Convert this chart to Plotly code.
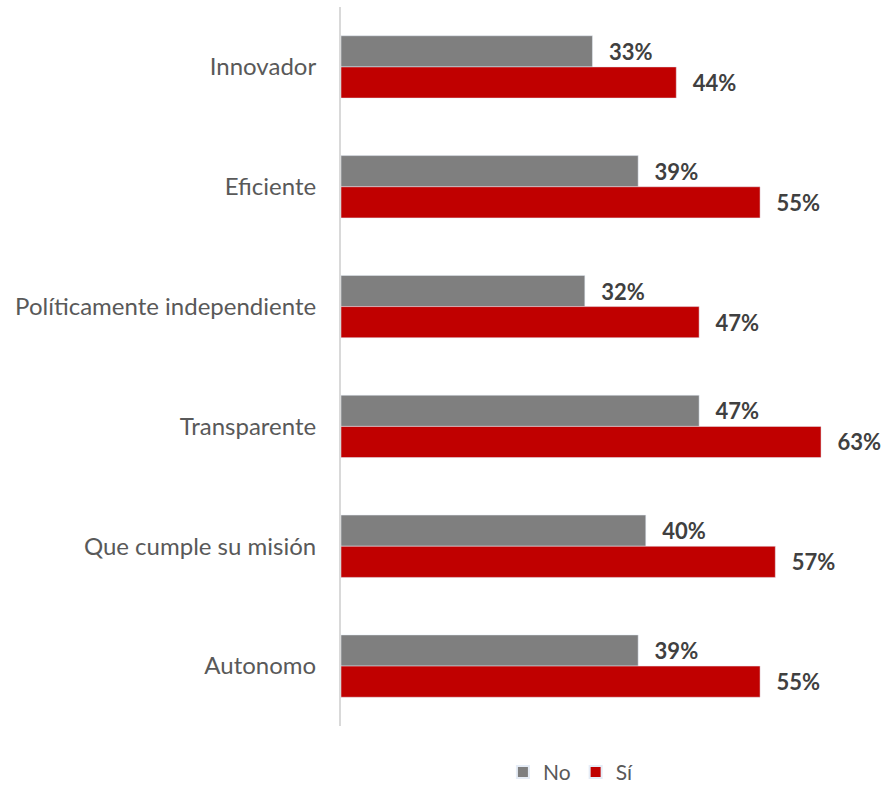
import plotly.graph_objects as go

categories = ["Innovador", "Eficiente", "Políticamente independiente",
              "Transparente", "Que cumple su misión", "Autonomo"]
no_values = [33, 39, 32, 47, 40, 39]
si_values = [44, 55, 47, 63, 57, 55]

font_family = "Lato, 'Open Sans', sans-serif"
label_font = dict(family=font_family, size=22, color="#404040", weight="bold")
pad = "\u00a0\u00a0\u2009"

fig = go.Figure()
fig.add_trace(go.Bar(
    y=categories, x=no_values, name="No", orientation="h",
    marker=dict(color="#7f7f7f"),
    text=[f"{pad}{v}%" for v in no_values],
    textposition="outside", cliponaxis=False, textfont=label_font,
))
fig.add_trace(go.Bar(
    y=categories, x=si_values, name="Sí", orientation="h",
    marker=dict(color="#c00000"),
    text=[f"{pad}{v}%" for v in si_values],
    textposition="outside", cliponaxis=False, textfont=label_font,
))

fig.update_layout(
    width=884, height=787,
    margin=dict(l=341, r=2, t=7, b=61, autoexpand=False),
    barmode="group", bargap=0.48, bargroupgap=0,
    plot_bgcolor="white", paper_bgcolor="white",
    font=dict(family=font_family, size=22, color="#595959"),
    xaxis=dict(range=[0, 71], visible=False),
    yaxis=dict(autorange="reversed", showline=True, linecolor="#d9d9d9",
               linewidth=2, ticks="", ticklabelstandoff=18,
               tickfont=dict(size=24, color="#595959")),
    legend=dict(orientation="h", x=0.425, xanchor="center", y=-0.036,
                yanchor="top", font=dict(size=21, color="#595959"),
                itemsizing="constant", tracegroupgap=0),
    showlegend=True,
)

fig.write_html("out.html", config={"displayModeBar": False},
               post_script="document.body.style.margin='0';document.body.style.overflow='hidden';")
